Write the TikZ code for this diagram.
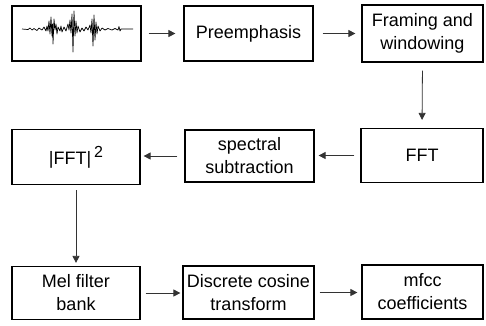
\documentclass[tikz,border=0pt]{standalone}
\usepackage{fontspec}
\setmainfont{Liberation Sans}
\usetikzlibrary{arrows.meta}
\tikzset{
  blk/.style={draw=black, line width=1.2pt, inner sep=0pt, align=center,
    font=\fontsize{18}{23}\selectfont},
  conn/.style={draw=black!80, line width=0.8pt,
    -{Triangle[length=7pt,width=7pt]}},
}
\begin{document}
\begin{tikzpicture}[x=1pt,y=-1pt]
\useasboundingbox (0,0) rectangle (486,325);
% row 1
\node[blk, minimum width=129pt, minimum height=55pt] (sig) at (76.5,33.5) {};
\node[blk, minimum width=129pt, minimum height=55pt] (pre) at (248.5,33.5) {Preemphasis};
\node[blk, minimum width=121pt, minimum height=57pt] (frm) at (422.5,33.5) {Framing and\\windowing};
% row 2
\node[blk, minimum width=128pt, minimum height=55pt] (pow) at (76,157) {|FFT|\,\raisebox{7pt}{\fontsize{16}{16}\selectfont 2}};
\node[blk, minimum width=129pt, minimum height=52pt] (spc) at (249.5,156) {spectral\\subtraction};
\node[blk, minimum width=122pt, minimum height=54pt] (fft) at (422,155.5) {FFT};
% row 3
\node[blk, minimum width=128pt, minimum height=53pt] (mel) at (76,293) {Mel filter\\bank};
\node[blk, minimum width=131pt, minimum height=53pt] (dct) at (248.5,292.5) {Discrete cosine\\transform};
\node[blk, minimum width=121pt, minimum height=54pt] (mfc) at (422.5,292) {mfcc\\coefficients};
% waveform
\draw[line width=0.7pt, line join=round]
 (22,29) -- (28,29.5) -- (30,28) -- (32,30) -- (34,28.5) -- (37,30.5) -- (39,28) -- (42,30)
 -- (44,27) -- (46,31) -- (47,26) -- (48,31) -- (49,21) -- (50,34) -- (51,17) -- (52,36)
 -- (52.5,24) -- (53,44) -- (54,19) -- (55,30) -- (56,24) -- (57,34) -- (58,27) -- (60,31)
 -- (61,26) -- (62,32) -- (64,27) -- (66,31) -- (68,24) -- (69,30) -- (70,20) -- (71,33)
 -- (72,14) -- (73,52) -- (74,11) -- (75,36) -- (76,21) -- (77,33) -- (78,26) -- (80,32)
 -- (82,28) -- (84,31) -- (86,27) -- (88,30) -- (90,25) -- (91,33) -- (92,19) -- (93,46)
 -- (94,15) -- (95,40) -- (96,22) -- (97,34) -- (98,26) -- (100,31) -- (102,28) -- (105,30)
 -- (108,28.5) -- (112,30) -- (115,28.5) -- (118,30) -- (119,26.5) -- (120,31) -- (121,29)
 -- (133,29);
% connectors
\draw[conn, shorten <=7pt, shorten >=8pt] (sig.east) -- (pre.west);
\draw[conn, shorten <=9pt, shorten >=6pt] (pre.east) -- (frm.west);
\draw[conn, shorten <=8pt, shorten >=8pt] (frm.south) -- (fft.north);
\draw[conn, shorten <=6pt, shorten >=4pt] (fft.west) -- (fft.west -| spc.east);
\draw[conn, shorten <=7pt, shorten >=3pt] (spc.west) -- (spc.west -| pow.east);
\draw[conn, shorten <=5pt, shorten >=3pt] (pow.south) -- (mel.north);
\draw[conn, shorten <=5pt, shorten >=2pt] (mel.east) -- (mel.east -| dct.west);
\draw[conn, shorten <=5pt, shorten >=4pt] (dct.east) -- (dct.east -| mfc.west);
\end{tikzpicture}
\end{document}
